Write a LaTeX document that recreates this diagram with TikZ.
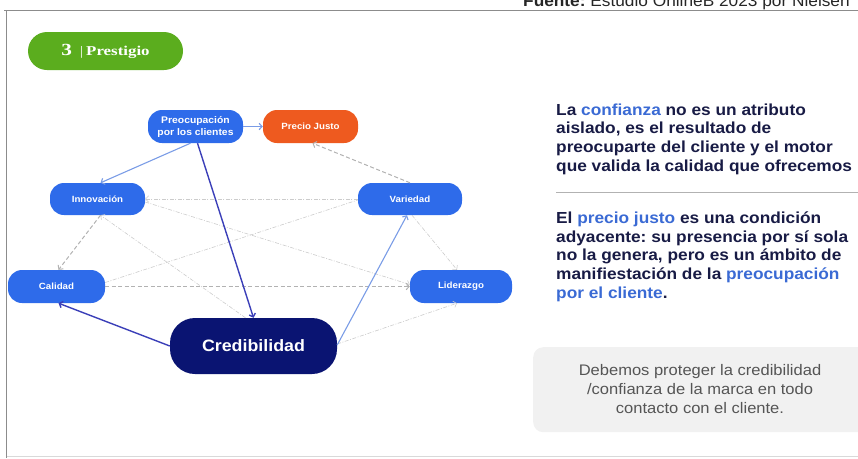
\documentclass[tikz,border=0pt]{standalone}
\usepackage{fontspec}
\setmainfont{Liberation Sans}[FakeStretch=1.08]
\newfontfamily\serifb{Liberation Serif}[FakeStretch=1.25]
\usetikzlibrary{arrows.meta}
\definecolor{grn}{HTML}{5BAD1E}
\definecolor{blu}{HTML}{2E6BEA}
\definecolor{orng}{HTML}{EE5A1F}
\definecolor{navy}{HTML}{0A1472}
\definecolor{lb}{HTML}{7A9CE6}
\definecolor{db}{HTML}{3B3FB8}
\definecolor{txt}{HTML}{181B45}
\definecolor{hl}{HTML}{3A6AD4}
\definecolor{boxg}{HTML}{F1F1F1}
\definecolor{boxt}{HTML}{555555}
\tikzset{
  pill/.style={rectangle, rounded corners=14pt, fill=blu, text=white, inner sep=0pt,
    minimum width=95pt, minimum height=33pt, align=center,
    font=\bfseries\fontsize{9}{12}\selectfont},
  tip/.style={-{Straight Barb[length=3pt,width=6.5pt]}},
  lbline/.style={draw=lb, line width=1.1pt, tip},
  dbline/.style={draw=db, line width=1.4pt, tip},
  dashg/.style={draw=black!30, line width=1pt, dash pattern=on 4pt off 2.5pt, tip},
  dotg/.style={draw=black!20, line width=0.6pt, dash pattern=on 4pt off 1.5pt on 1pt off 1.5pt, tip},
  dotgn/.style={draw=black!20, line width=0.6pt, dash pattern=on 4pt off 1.5pt on 1pt off 1.5pt},
  para/.style={anchor=north west, inner sep=0pt, align=left, text=txt,
    font=\bfseries\fontsize{16}{18.7}\selectfont}
}
\begin{document}
\frenchspacing
\begin{tikzpicture}[x=1pt,y=-1pt]
\useasboundingbox (0,0) rectangle (858,458);
\clip (0,0) rectangle (858,458);
% frame
\draw[black!45, line width=1pt] (4,10.5) -- (858,10.5);
\draw[black!45, line width=1pt] (6.5,10.5) -- (6.5,458);
\draw[black!15, line width=0.8pt] (6.5,456.5) -- (858,456.5);
% source
\node[anchor=base west, inner sep=0pt, text=black!85, font=\fontsize{16}{16}\selectfont] (src) at (523,6.5)
  {\textbf{Fuente:} Estudio OnlineB 2023 por Nielsen};
% title pill
\node[rectangle, rounded corners=19pt, fill=grn, text=white, minimum width=155pt, minimum height=38pt, inner sep=0pt] (title) at (105.5,51)
  {\serifb\bfseries{\fontsize{17}{17}\selectfont 3}\hspace{8pt}{\mdseries\fontsize{13}{13}\selectfont|}\hspace{3pt}{\fontsize{13.5}{13.5}\selectfont Prestigio}};
% nodes
\node[pill, font=\bfseries\fontsize{9.6}{12}\selectfont] (preo) at (195.5,126.5) {Preocupación\\por los clientes};
\node[pill, fill=orng] (prec) at (310.5,126.5) {Precio Justo};
\node[pill, minimum height=32pt] (inno) at (97.5,199) {Innovación};
\node[pill, minimum width=104pt, minimum height=32pt] (var) at (410,199) {Variedad};
\node[pill, minimum width=97pt] (cal) at (56.5,286.5) {Calidad};
\node[pill, minimum width=102pt] (lid) at (461,286.5) {Liderazgo};
\node[pill, fill=navy, minimum width=167pt, minimum height=56pt, rounded corners=25pt,
  font=\bfseries\fontsize{16.5}{18}\selectfont] (cred) at (253.5,346) {Credibilidad};
% light grey connectors
\draw[dotg] (var.west) -- (inno.east);
\draw[dotg] ([xshift=-8pt]cred.north) -- ([xshift=3pt]inno.south);
\draw[dotg] ([yshift=-3pt]inno.east) -- ([yshift=2pt]lid.west);
\draw[dotgn] ([yshift=4pt]cal.east) -- ([yshift=-1pt]var.west);
\draw[dotg] ([xshift=2pt]var.south) -- ([xshift=-4pt]lid.north);
\draw[dotg] ([yshift=2pt]cred.east) -- ([xshift=-4pt]lid.south);
% dashed grey connectors
\draw[dashg] (var.north) -- ([xshift=2pt]prec.south);
\draw[dashg] ([xshift=3pt]inno.south) -- ([xshift=2pt]cal.north);
\draw[dashg] (cal.east) -- (lid.west);
% solid connectors
\draw[lbline] (preo.east) -- (prec.west);
\draw[lbline] ([xshift=-5pt]preo.south) -- ([xshift=3pt]inno.north);
\draw[dbline] ([xshift=2pt]preo.south) -- (cred.north);
\draw[dbline] (cred.west) -- ([xshift=2pt]cal.south);
\draw[lbline] ([yshift=1pt]cred.east) -- ([xshift=-3pt]var.south);
% right text
\node[para] (p1) at (556,103.5)
  {La \textcolor{hl}{confianza} no es un atributo\\
   aislado, es el resultado de\\
   preocuparte del cliente y el motor\\
   que valida la calidad que ofrecemos};
\draw[black!30, line width=0.8pt] (556,192) -- (858,192);
\node[para] (p2) at (556,211.5)
  {El \textcolor{hl}{precio justo} es una condición\\
   adyacente: su presencia por sí sola\\
   no la genera, pero es un ámbito de\\
   manifiestación de la \textcolor{hl}{preocupación}\\
   \textcolor{hl}{por el cliente}.};
% grey box
\node[rectangle, rounded corners=10pt, fill=boxg, minimum width=340pt, minimum height=85pt, anchor=north west, inner sep=0pt] (box) at (533,347) {};
\node[anchor=north, inner sep=0pt, align=center, text=boxt, font=\fontsize{15.3}{19}\selectfont] (boxtext) at (700,364.5)
  {Debemos proteger la credibilidad\\/confianza de la marca en todo\\contacto con el cliente.};
\end{tikzpicture}
\end{document}
